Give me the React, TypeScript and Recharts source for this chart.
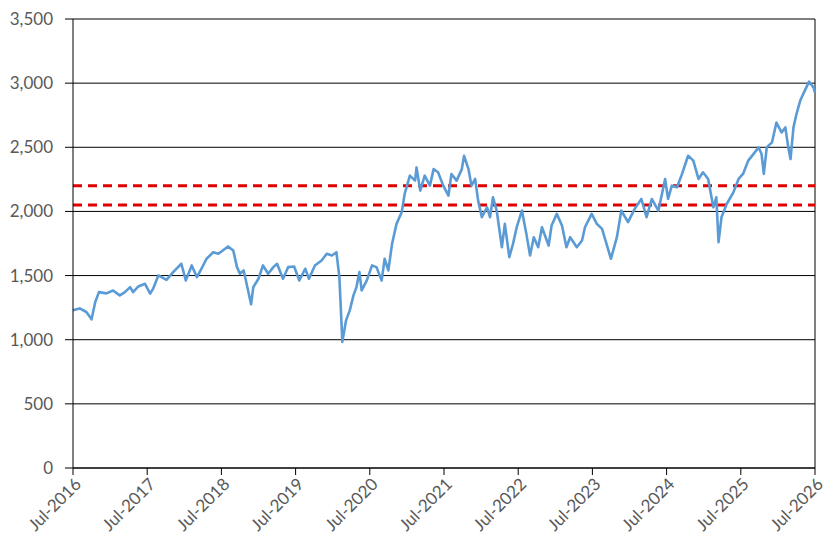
import { LineChart, Line, XAxis, YAxis, CartesianGrid, ReferenceLine } from 'recharts';

// decimal years (Jul-2016 = 2016.5) and index level
const years = [
  2016.50, 2016.59, 2016.68, 2016.75, 2016.80, 2016.85, 2016.95, 2017.04, 2017.13, 2017.20,
  2017.27, 2017.31, 2017.38, 2017.47, 2017.54, 2017.58, 2017.65, 2017.76, 2017.85, 2017.96,
  2018.02, 2018.10, 2018.17, 2018.23, 2018.30, 2018.39, 2018.46, 2018.59, 2018.66, 2018.71,
  2018.75, 2018.80, 2018.83, 2018.90, 2018.93, 2019.00, 2019.06, 2019.13, 2019.20, 2019.25,
  2019.33, 2019.40, 2019.48, 2019.55, 2019.63, 2019.68, 2019.76, 2019.85, 2019.92, 2019.99,
  2020.05, 2020.09, 2020.13, 2020.18, 2020.23, 2020.28, 2020.32, 2020.36, 2020.39, 2020.46,
  2020.53, 2020.59, 2020.66, 2020.70, 2020.75, 2020.80, 2020.86, 2020.93, 2020.97, 2021.04,
  2021.11, 2021.13, 2021.18, 2021.24, 2021.31, 2021.36, 2021.42, 2021.49, 2021.56, 2021.60,
  2021.67, 2021.74, 2021.77, 2021.83, 2021.87, 2021.92, 2021.96, 2022.01, 2022.08, 2022.12,
  2022.16, 2022.21, 2022.28, 2022.32, 2022.38, 2022.43, 2022.48, 2022.55, 2022.61, 2022.66,
  2022.71, 2022.77, 2022.82, 2022.91, 2022.95, 2023.02, 2023.09, 2023.15, 2023.20, 2023.29,
  2023.36, 2023.40, 2023.49, 2023.56, 2023.63, 2023.69, 2023.75, 2023.83, 2023.89, 2023.98,
  2024.07, 2024.16, 2024.23, 2024.30, 2024.39, 2024.48, 2024.52, 2024.57, 2024.64, 2024.70,
  2024.79, 2024.86, 2024.93, 2024.99, 2025.06, 2025.13, 2025.17, 2025.20, 2025.24, 2025.31,
  2025.40, 2025.47, 2025.53, 2025.60, 2025.67, 2025.74, 2025.78, 2025.81, 2025.85, 2025.92,
  2025.98, 2026.05, 2026.10, 2026.14, 2026.17, 2026.21, 2026.25, 2026.30, 2026.34, 2026.42,
  2026.48, 2026.50,
];

const index = [
  1229, 1244, 1216, 1159, 1294, 1371, 1361, 1384, 1346, 1371,
  1410, 1371, 1415, 1436, 1359, 1398, 1501, 1467, 1527, 1592,
  1462, 1579, 1488, 1553, 1631, 1682, 1670, 1727, 1696, 1566,
  1514, 1540, 1462, 1276, 1410, 1475, 1579, 1514, 1566, 1592,
  1475, 1566, 1571, 1462, 1553, 1475, 1579, 1618, 1670, 1657,
  1682, 1488, 983, 1151, 1229, 1346, 1410, 1527, 1384, 1462,
  1579, 1566, 1462, 1631, 1540, 1747, 1903, 1994, 2137, 2279,
  2240, 2343, 2162, 2279, 2201, 2330, 2305, 2201, 2123, 2292,
  2240, 2330, 2434, 2330, 2201, 2253, 2084, 1955, 2032, 1955,
  2110, 2007, 1721, 1903, 1644, 1747, 1877, 2007, 1825, 1657,
  1799, 1721, 1877, 1734, 1890, 1981, 1890, 1721, 1799, 1721,
  1773, 1877, 1981, 1903, 1864, 1747, 1631, 1799, 2007, 1916,
  2020, 2097, 1955, 2097, 2007, 2253, 2097, 2201, 2188, 2279,
  2434, 2396, 2253, 2305, 2253, 2032, 2110, 1760, 1955, 2058,
  2149, 2253, 2292, 2396, 2447, 2499, 2447, 2292, 2499, 2538,
  2693, 2616, 2655, 2499, 2408, 2655, 2759, 2862, 2914, 3012,
  2966, 2927,
];

const xTicks = [2016.5, 2017.5, 2018.5, 2019.5, 2020.5, 2021.5, 2022.5, 2023.5, 2024.5, 2025.5, 2026.5];
const yTicks = [0, 500, 1000, 1500, 2000, 2500, 3000, 3500];
const bands = [2200, 2050];

const data = years.map((t, i) => ({ t, v: index[i] }));

const font = 'Lato, "Open Sans", sans-serif';

const DateTick = (props: any) => {
  const { x, y, payload } = props;
  return (
    <g transform={`translate(${x + 5},${y + 4})`}>
      <text x={0} y={0} dy="0.35em" textAnchor="end" transform="rotate(-45)"
        fill="#595959" fontSize={17} fontFamily={font}>
        {`Jul-${Math.floor(payload.value)}`}
      </text>
    </g>
  );
};

export default function App() {
  return (
    <LineChart width={819} height={540} data={data}
      margin={{ top: 11, right: 12, bottom: 0, left: 0 }}>
      <CartesianGrid vertical={false} stroke="#000" strokeWidth={1} />
      <XAxis type="number" dataKey="t" domain={[2016.5, 2026.5]} ticks={xTicks}
        interval={0} height={80} tickSize={7} tick={<DateTick />}
        axisLine={{ stroke: '#000' }} tickLine={{ stroke: '#000' }} />
      <YAxis type="number" domain={[0, 3500]} ticks={yTicks} width={65}
        tickSize={8} tickMargin={12}
        tickFormatter={(v: number) => v.toLocaleString('en-US')}
        tick={{ fill: '#595959', fontSize: 17, fontFamily: font }}
        axisLine={{ stroke: '#000' }} tickLine={{ stroke: '#000' }} />
      <ReferenceLine x={2026.5} stroke="#000" />
      {bands.map((b) => (
        <ReferenceLine key={b} y={b} stroke="#E00000" strokeWidth={3} strokeDasharray="9 6" />
      ))}
      <Line type="linear" dataKey="v" stroke="#5B9BD5" strokeWidth={2.6} dot={false}
        strokeLinejoin="round" isAnimationActive={false} />
    </LineChart>
  );
}
